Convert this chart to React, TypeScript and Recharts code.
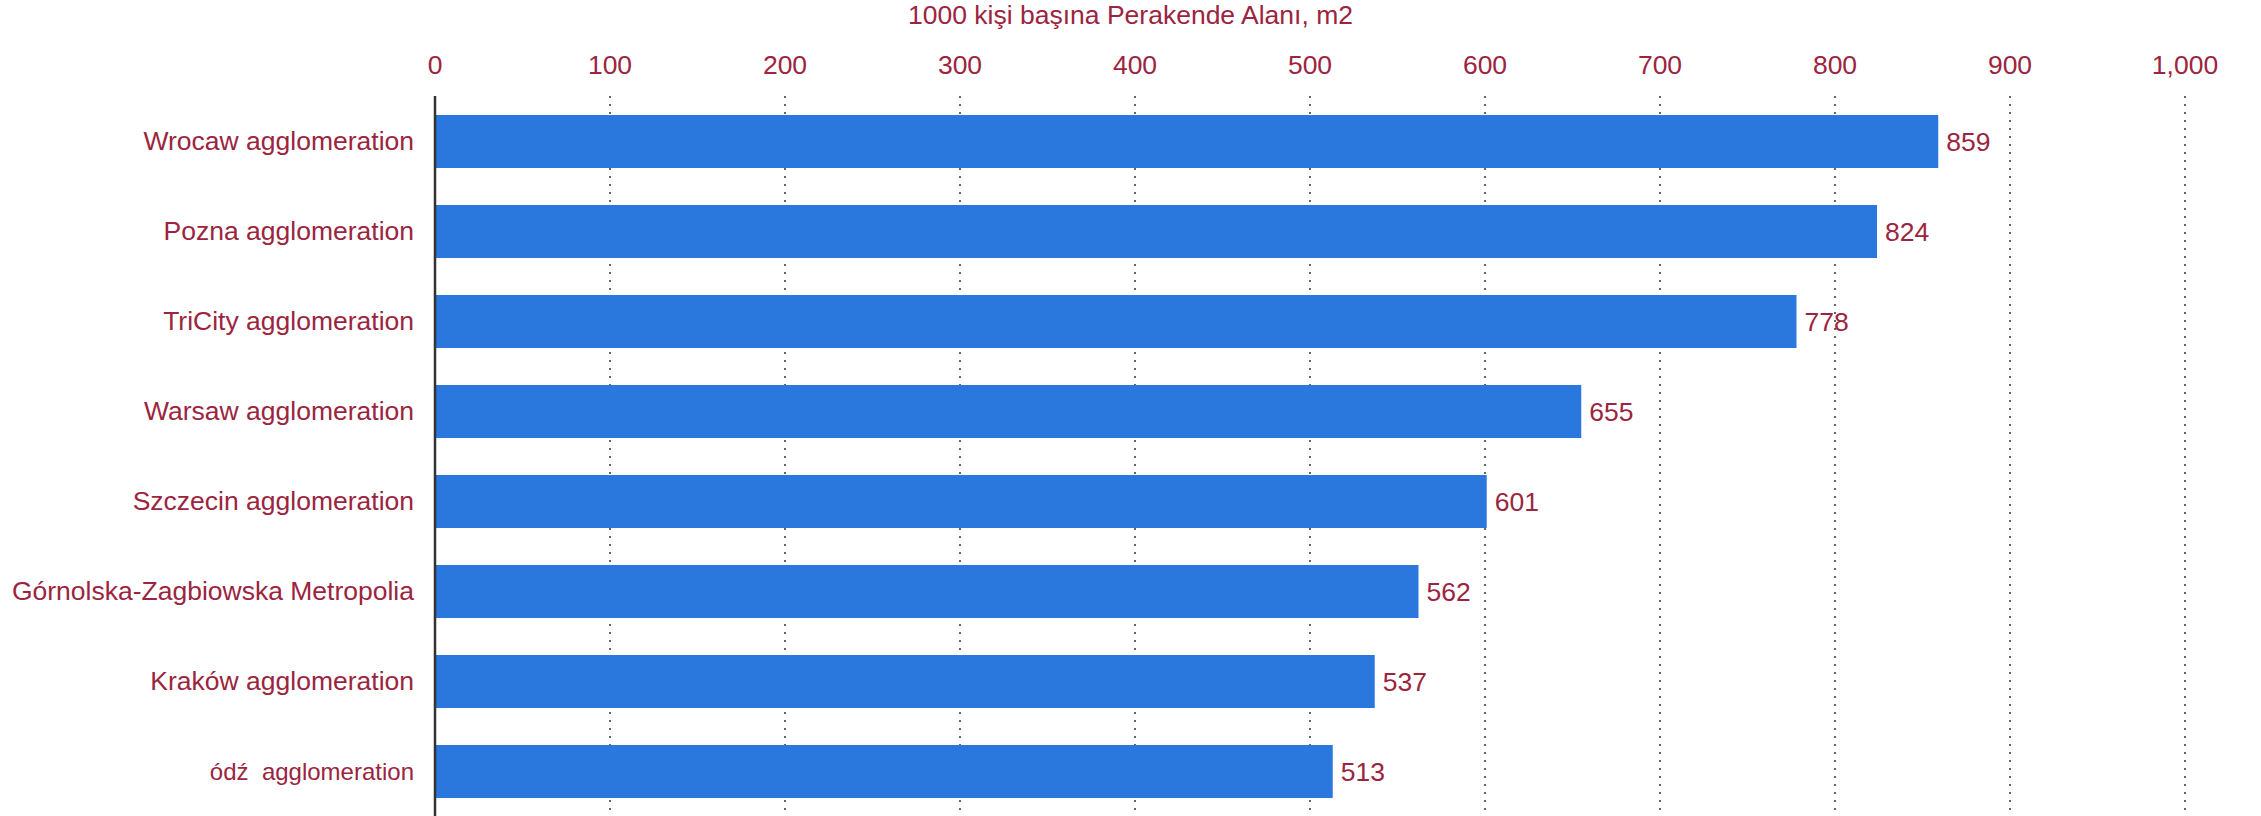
import { BarChart, Bar, XAxis, YAxis, CartesianGrid, LabelList } from "recharts";

const regions = [
  "Wrocaw agglomeration",
  "Pozna agglomeration",
  "TriCity agglomeration",
  "Warsaw agglomeration",
  "Szczecin agglomeration",
  "Górnolska-Zagbiowska Metropolia",
  "Kraków agglomeration",
  "ódź  agglomeration",
];
const retailArea = [859, 824, 778, 655, 601, 562, 537, 513];
const xTicks = [0, 100, 200, 300, 400, 500, 600, 700, 800, 900, 1000];
const title = "1000 kişi başına Perakende Alanı, m2";

const data = regions.map((name, i) => ({ name, value: retailArea[i] }));

const TEXT = "#9b2540";
const BAR = "#2a78de";
const FONT = "'Liberation Sans', Arial, sans-serif";

const CategoryTick = ({ x, y, payload }: any) => {
  const small = payload.value.startsWith("ódź");
  return (
    <text
      x={x}
      y={y}
      dy="0.355em"
      textAnchor="end"
      fill={TEXT}
      fontSize={small ? 24 : 26.5}
      fontFamily={FONT}
      style={{ whiteSpace: "pre" }}
    >
      {payload.value}
    </text>
  );
};

export default function App() {
  return (
    <div style={{ position: "absolute", left: 0, top: 0, width: 2261, height: 816, background: "#fff", fontFamily: FONT }}>
      <div
        style={{
          position: "absolute",
          top: 0,
          left: 0,
          width: 2261,
          textAlign: "center",
          color: TEXT,
          fontSize: 26.5,
          lineHeight: "30px",
        }}
      >
        {title}
      </div>
      <BarChart
        width={2261}
        height={816}
        data={data}
        layout="vertical"
        margin={{ top: 0, right: 76, left: 0, bottom: 0 }}
        barSize={53}
      >
        <CartesianGrid horizontal={false} stroke="#333" strokeDasharray="2 6" strokeWidth={1.5} />
        <XAxis
          type="number"
          orientation="top"
          domain={[0, 1000]}
          ticks={xTicks}
          height={96}
          axisLine={false}
          tickLine={false}
          tickSize={0}
          tickMargin={22}
          tickFormatter={(v) => v.toLocaleString("en-US")}
          tick={{ fill: TEXT, fontSize: 26.5, fontFamily: FONT }}
          interval={0}
        />
        <YAxis
          type="category"
          dataKey="name"
          width={435}
          axisLine={{ stroke: "#333", strokeWidth: 2.5 }}
          tickLine={false}
          tickSize={0}
          tickMargin={21}
          tick={<CategoryTick />}
          interval={0}
        />
        <Bar dataKey="value" fill={BAR} isAnimationActive={false}>
          <LabelList
            dataKey="value"
            position="right"
            offset={8}
            fill={TEXT}
            fontSize={26.5}
            fontFamily={FONT}
          />
        </Bar>
      </BarChart>
    </div>
  );
}
